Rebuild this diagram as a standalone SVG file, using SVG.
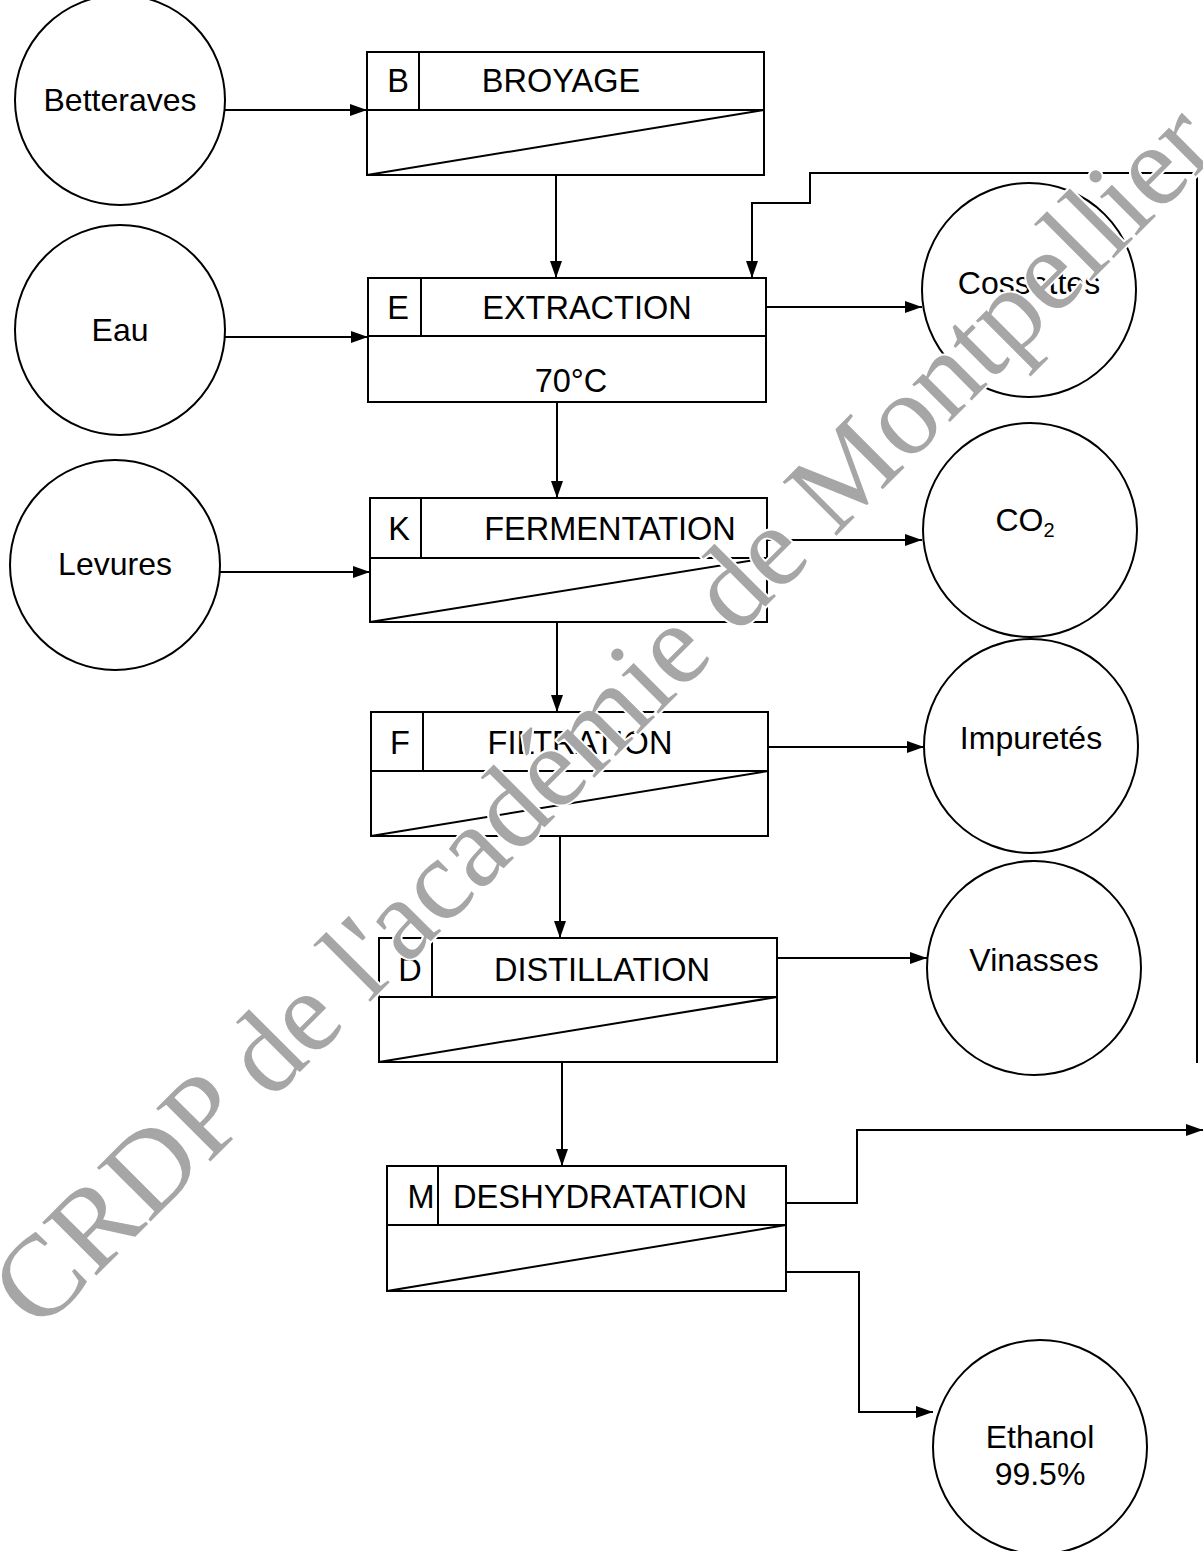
<svg xmlns="http://www.w3.org/2000/svg" width="1203" height="1551" viewBox="0 0 1203 1551">
<style>
.bx{fill:#fff;stroke:#000;stroke-width:2}
.ln{fill:none;stroke:#000;stroke-width:2}
.c{fill:#fff;stroke:#000;stroke-width:2}
.t{font-family:"Liberation Sans",Arial,sans-serif;font-size:32px;fill:#000;text-anchor:middle}
.b{font-size:32.5px}
.cn{fill:none;stroke:#000;stroke-width:2}
.wm{font-family:"Liberation Serif","Times New Roman",serif;font-size:116px;fill:#a6a6a6;stroke:#fff;stroke-width:4;paint-order:stroke;text-anchor:middle}
</style>
<defs>
<marker id="arr" markerWidth="17" markerHeight="12" refX="17" refY="6" orient="auto" markerUnits="userSpaceOnUse"><path d="M0,0 L17,6 L0,12 z" fill="#000"/></marker>
</defs>
<rect width="1203" height="1551" fill="#fff"/>

<g id="connectors">
<path class="cn" d="M225,110 H367" marker-end="url(#arr)"/>
<path class="cn" d="M225,337 H368" marker-end="url(#arr)"/>
<path class="cn" d="M220,572 H370" marker-end="url(#arr)"/>
<path class="cn" d="M556,175 V278" marker-end="url(#arr)"/>
<path class="cn" d="M557,402 V498" marker-end="url(#arr)"/>
<path class="cn" d="M557,622 V712" marker-end="url(#arr)"/>
<path class="cn" d="M560,836 V938" marker-end="url(#arr)"/>
<path class="cn" d="M562,1062 V1166" marker-end="url(#arr)"/>
<path class="cn" d="M766,307 H922" marker-end="url(#arr)"/>
<path class="cn" d="M767,540 H922" marker-end="url(#arr)"/>
<path class="cn" d="M768,747 H924" marker-end="url(#arr)"/>
<path class="cn" d="M777,958 H927" marker-end="url(#arr)"/>
<path class="cn" d="M786,1203 H857 V1130 H1203" marker-end="url(#arr)"/>
<path class="cn" d="M786,1272 H859 V1412 H933" marker-end="url(#arr)"/>
<path class="cn" d="M1197,1063 V173 H810 V203 H752 V278" marker-end="url(#arr)"/>
</g>

<g id="betteraves"><circle class="c" cx="120" cy="100" r="105"/><text class="t" x="120" y="111" font-size="29.5">Betteraves</text></g>
<g id="eau"><circle class="c" cx="120" cy="330" r="105"/><text class="t" x="120" y="341">Eau</text></g>
<g id="levures"><circle class="c" cx="115" cy="565" r="105"/><text class="t" x="115" y="575">Levures</text></g>

<g id="broyage">
<rect class="bx" x="367" y="52" width="397" height="123"/>
<path class="ln" d="M367,110 H764 M419,52 V110 M367,175 L764,110"/>
<text class="t b" x="398" y="92">B</text><text class="t b" x="561" y="92">BROYAGE</text>
</g>
<g id="extraction">
<rect class="bx" x="368" y="278" width="398" height="124"/>
<path class="ln" d="M368,336 H766 M421,278 V336"/>
<text class="t b" x="398" y="319">E</text><text class="t b" x="587" y="319">EXTRACTION</text>
<text class="t b" x="571" y="392">70°C</text>
</g>
<g id="fermentation">
<rect class="bx" x="370" y="498" width="397" height="124"/>
<path class="ln" d="M370,558 H767 M421,498 V558 M370,622 L767,558"/>
<text class="t b" x="399" y="540">K</text><text class="t b" x="610" y="540">FERMENTATION</text>
</g>
<g id="filtration">
<rect class="bx" x="371" y="712" width="397" height="124"/>
<path class="ln" d="M371,771 H768 M423,712 V771 M371,836 L768,771"/>
<text class="t b" x="400" y="754">F</text><text class="t b" x="580" y="754">FILTRATION</text>
</g>
<g id="distillation">
<rect class="bx" x="379" y="938" width="398" height="124"/>
<path class="ln" d="M379,997 H777 M432,938 V997 M379,1062 L777,997"/>
<text class="t b" x="410" y="981">D</text><text class="t b" x="602" y="981">DISTILLATION</text>
</g>
<g id="deshydratation">
<rect class="bx" x="387" y="1166" width="399" height="125"/>
<path class="ln" d="M387,1225 H786 M438,1166 V1225 M387,1291 L786,1225"/>
<text class="t b" x="421" y="1208">M</text><text class="t b" x="600" y="1208" textLength="294" lengthAdjust="spacingAndGlyphs">DESHYDRATATION</text>
</g>

<g id="cossettes"><circle class="c" cx="1029" cy="290" r="107"/><text class="t" x="1029" y="294">Cossettes</text></g>
<g id="co2"><circle class="c" cx="1030" cy="530" r="107"/><text class="t" x="1025" y="531">CO<tspan font-size="20" dy="6">2</tspan></text></g>
<g id="impuretes"><circle class="c" cx="1031" cy="746" r="107"/><text class="t" x="1031" y="749">Impuretés</text></g>
<g id="vinasses"><circle class="c" cx="1034" cy="968" r="107"/><text class="t" x="1034" y="971">Vinasses</text></g>
<g id="ethanol"><circle class="c" cx="1040" cy="1447" r="107"/><text class="t" x="1040" y="1448">Ethanol</text><text class="t" x="1040" y="1485">99.5%</text></g>

<g id="watermark"><text class="wm" transform="translate(630,742) rotate(-45)">CRDP de l'académie de Montpellier</text></g>
</svg>
